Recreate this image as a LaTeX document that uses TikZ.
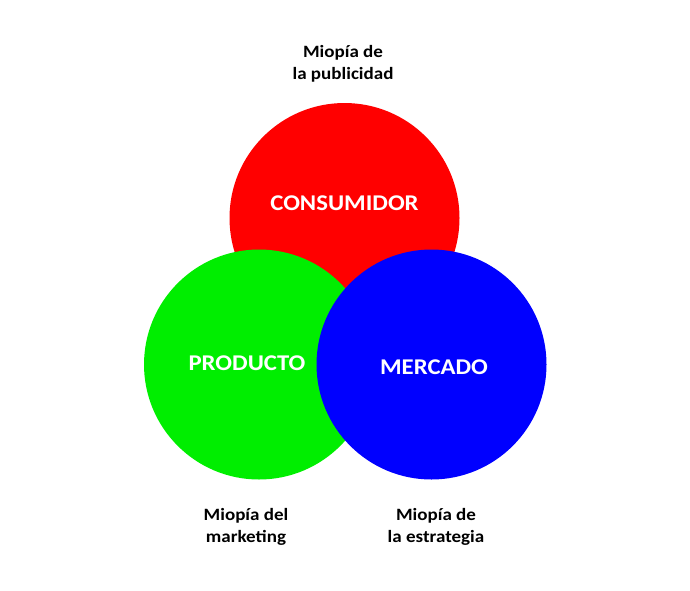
\documentclass[tikz,border=0pt]{standalone}
\usepackage{fontspec}
\setmainfont{Carlito}[FakeStretch=1.1]
\definecolor{cred}{HTML}{FF0000}
\definecolor{cgreen}{HTML}{00EE00}
\definecolor{cblue}{HTML}{0000FF}
\begin{document}
\begin{tikzpicture}[x=1pt,y=-1pt,
  circ/.style={circle,minimum size=230pt,inner sep=0pt,draw=none},
  clabel/.style={text=white,font=\fontsize{22.5}{26}\selectfont\bfseries},
  mlabel/.style={text=black,align=center,font=\fontsize{17.3}{22}\selectfont\bfseries}]
\useasboundingbox (0,0) rectangle (690,590);
\node[circ,fill=cred] (cons) at (344.5,218) {};
\node[circ,fill=cgreen] (prod) at (259,364.5) {};
\node[circ,fill=cblue] (merc) at (431.5,364.5) {};
\node[clabel] (tcons) at (344.5,203) {CONSUMIDOR};
\node[clabel] (tprod) at (247,363) {PRODUCTO};
\node[clabel] (tmerc) at (434,367) {MERCADO};
\node[mlabel] (lpub) at (343,64) {Miopía de\\la publicidad};
\node[mlabel] (lmkt) at (246,526.5) {Miopía del\\marketing};
\node[mlabel] (lest) at (436,526.5) {Miopía de\\la estrategia};
\end{tikzpicture}
\end{document}
